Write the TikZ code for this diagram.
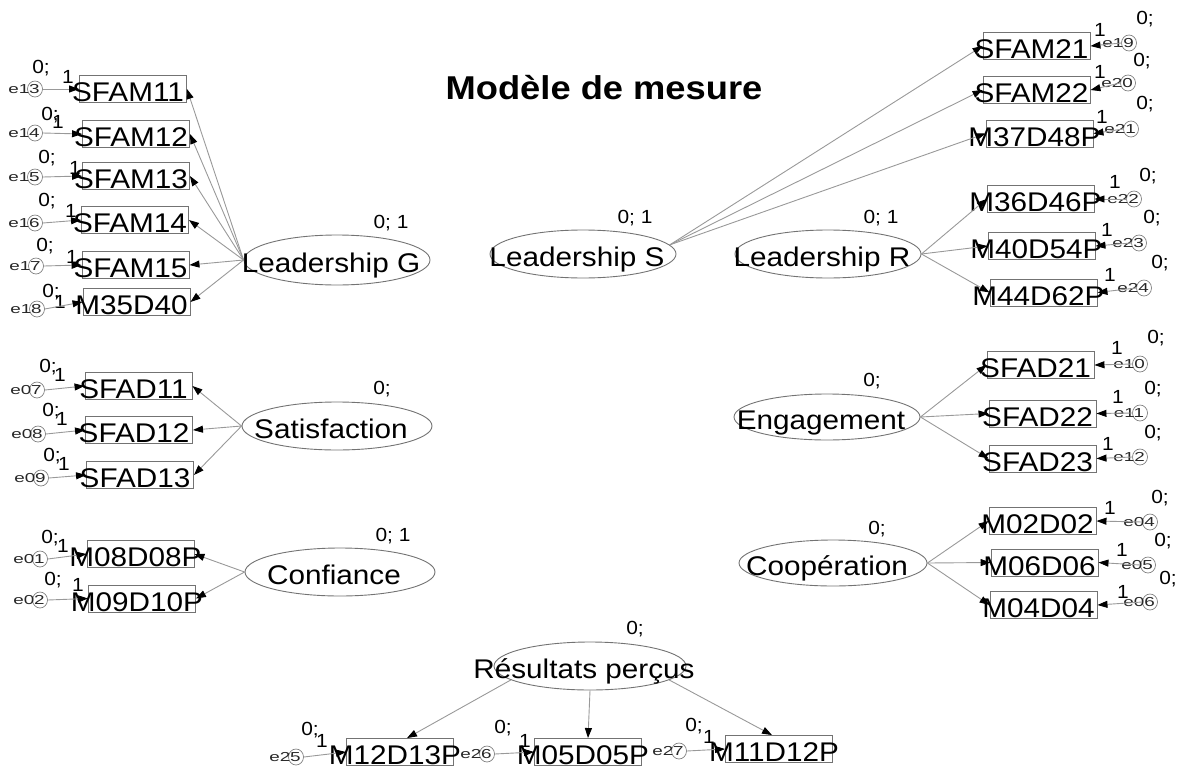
\documentclass[tikz,border=0pt]{standalone}
\usepackage{fontspec}
\setmainfont{Liberation Sans}
\newfontfamily\amos[FakeStretch=1.1]{Liberation Sans}
\newfontfamily\amosE[FakeStretch=1.45]{Liberation Sans}
\usetikzlibrary{shapes.geometric,arrows.meta}
\tikzset{
 indbox/.style={draw=black!55,line width=0.9pt,rectangle,minimum width=107pt,minimum height=27pt,inner sep=0pt},
 txt/.style={font=\amos\fontsize{27}{27}\selectfont,inner sep=0pt,text height=19.3pt,text depth=0pt},
 lat/.style={draw=black!55,line width=0.9pt,ellipse,inner sep=0pt},
 ecirc/.style={draw=black!50,line width=0.7pt,ellipse,minimum width=15pt,minimum height=16pt,inner sep=0pt},
 etxt/.style={font=\amosE\fontsize{13}{13}\selectfont,inner sep=0pt,text height=9.3pt,text depth=0pt,text=black!85},
 lbl/.style={font=\amos\fontsize{19}{19}\selectfont,inner sep=0pt,text height=13.6pt,text depth=0pt},
 conn/.style={draw=black!40,line width=0.9pt,-{Triangle[length=10pt,width=7pt,color=black]}},
 ttl/.style={font=\amos\bfseries\fontsize{33}{33}\selectfont,inner sep=0pt,text height=23.6pt,text depth=0pt},
}
\newcommand\mkInd[4]{\node[indbox] (#1) at (#2,#3) {};\node[txt] (#1t) at ([shift={(-5,3)}]#1.center) {#4};}
\newcommand\mkLat[6]{\node[lat,minimum width=#4pt,minimum height=#5pt] (#1) at (#2,#3) {};\node[txt] (#1t) at ([shift={(-6,3)}]#1.center) {#6};}
\newcommand\mkErr[4]{\node[ecirc] (#1) at (#2,#3) {};\node[etxt] (#1t) at ([xshift=-11pt]#1.center) {#4};}
\newcommand\mkLbl[4]{\node[lbl] (#1) at (#2,#3) {#4};}
\begin{document}
\begin{tikzpicture}[x=1pt,y=-1pt]
\useasboundingbox (0,0) rectangle (1180,771);
\node[ttl] (title) at (604,88) {Modèle de mesure};

% ---------- Leadership G ----------
\mkLat{LG}{337}{260}{186}{50}{Leadership G}
\mkLbl{LGl}{391}{222}{0; 1}
\mkInd{SFAMa}{133}{89}{SFAM11}
\mkInd{SFAMb}{136}{134}{SFAM12}
\mkInd{SFAMc}{136}{176}{SFAM13}
\mkInd{SFAMd}{135}{220}{SFAM14}
\mkInd{SFAMe}{135.5}{265}{SFAM15}
\mkInd{MxxxA}{136.5}{302}{M35D40}
\mkErr{e13}{35}{89}{e13}
\mkErr{e14}{35}{133}{e14}
\mkErr{e15}{35}{177}{e15}
\mkErr{e16}{35}{223}{e16}
\mkErr{e17}{36}{266}{e17}
\mkErr{e18}{37}{309}{e18}
\mkLbl{z13}{41}{67}{0;}\mkLbl{o13}{68}{77}{1}
\mkLbl{z14}{50}{114}{0;}\mkLbl{o14}{58}{122}{1}
\mkLbl{z15}{47}{157}{0;}\mkLbl{o15}{75}{168}{1}
\mkLbl{z16}{47}{200}{0;}\mkLbl{o16}{71}{211}{1}
\mkLbl{z17}{45}{245}{0;}\mkLbl{o17}{72}{257}{1}
\mkLbl{z18}{51}{291}{0;}\mkLbl{o18}{60}{302}{1}
\foreach \b in {SFAMa,SFAMb,SFAMc,SFAMd,SFAMe,MxxxA} \draw[conn] (LG.west) -- (\b.east);
\draw[conn] (e13.east) -- (SFAMa.west);
\draw[conn] (e14.east) -- (SFAMb.west);
\draw[conn] (e15.east) -- (SFAMc.west);
\draw[conn] (e16.east) -- (SFAMd.west);
\draw[conn] (e17.east) -- (SFAMe.west);
\draw[conn] (e18.east) -- (MxxxA.west);

% ---------- Satisfaction ----------
\mkLat{SAT}{337}{426}{190}{48}{Satisfaction}
\mkLbl{SATl}{382}{388}{0;}
\mkInd{SFADa}{138.5}{386}{SFAD11}
\mkInd{SFADb}{139}{430}{SFAD12}
\mkInd{SFADc}{140}{475}{SFAD13}
\mkErr{e07}{37}{390}{e07}
\mkErr{e08}{38}{434}{e08}
\mkErr{e09}{41}{478}{e09}
\mkLbl{z07}{48}{366}{0;}\mkLbl{o07}{60}{375}{1}
\mkLbl{z08}{51}{410}{0;}\mkLbl{o08}{62}{419}{1}
\mkLbl{z09}{52}{455}{0;}\mkLbl{o09}{64}{464}{1}
\foreach \b in {SFADa,SFADb,SFADc} \draw[conn] (SAT.west) -- (\b.east);
\draw[conn] (e07.east) -- (SFADa.west);
\draw[conn] (e08.east) -- (SFADb.west);
\draw[conn] (e09.east) -- (SFADc.west);

% ---------- Confiance ----------
\mkLat{CONF}{340}{572}{190}{48}{Confiance}
\mkLbl{CONFl}{393}{535}{0; 1}
\mkInd{MconA}{140.5}{554}{M08D08P}
\mkInd{MconB}{142}{598.5}{M09D10P}
\mkErr{e01}{40}{559}{e01}
\mkErr{e02}{40}{600}{e02}
\mkLbl{z01}{50}{537}{0;}\mkLbl{o01}{63}{546}{1}
\mkLbl{z02}{53}{579}{0;}\mkLbl{o02}{78}{585}{1}
\draw[conn] (CONF.west) -- (MconA.east);
\draw[conn] (CONF.west) -- (MconB.east);
\draw[conn] (e01.east) -- (MconA.west);
\draw[conn] (e02.east) -- (MconB.west);

% ---------- Leadership S ----------
\mkLat{LS}{583}{254}{186}{48}{Leadership S}
\mkLbl{LSl}{635}{217}{0; 1}
\mkInd{SFAMf}{1036.5}{46}{SFAM21}
\mkInd{SFAMg}{1036.5}{90}{SFAM22}
\mkInd{MlsA}{1039.5}{133.5}{M37D48P}
\mkErr{e19}{1129}{43}{e19}
\mkErr{e20}{1128}{83}{e20}
\mkErr{e21}{1131}{129}{e21}
\mkLbl{o19}{1100}{30}{1}\mkLbl{z19}{1145}{18}{0;}
\mkLbl{o20}{1100}{72}{1}\mkLbl{z20}{1142}{60}{0;}
\mkLbl{o21}{1102}{117}{1}\mkLbl{z21}{1145}{103}{0;}
\foreach \b in {SFAMf,SFAMg,MlsA} \draw[conn] (LS.6) -- (\b.west);
\draw[conn] (e19.west) -- (SFAMf.east);
\draw[conn] (e20.west) -- (SFAMg.east);
\draw[conn] (e21.west) -- (MlsA.east);

% ---------- Leadership R ----------
\mkLat{LR}{828}{254}{186}{48}{Leadership R}
\mkLbl{LRl}{881}{217}{0; 1}
\mkInd{MlrA}{1040.5}{199}{M36D46P}
\mkInd{MlrB}{1041.5}{246}{M40D54P}
\mkInd{MlrC}{1043.5}{292.5}{M44D62P}
\mkErr{e22}{1134}{199}{e22}
\mkErr{e23}{1139}{243}{e23}
\mkErr{e24}{1144}{288}{e24}
\mkLbl{o22}{1115}{182}{1}\mkLbl{z22}{1148}{175}{0;}
\mkLbl{o23}{1107}{230}{1}\mkLbl{z23}{1152}{217}{0;}
\mkLbl{o24}{1110}{275}{1}\mkLbl{z24}{1160}{262}{0;}
\foreach \b in {MlrA,MlrB,MlrC} \draw[conn] (LR.east) -- (\b.west);
\draw[conn] (e22.west) -- (MlrA.east);
\draw[conn] (e23.west) -- (MlrB.east);
\draw[conn] (e24.west) -- (MlrC.east);

% ---------- Engagement ----------
\mkLat{ENG}{827}{417}{186}{46}{Engagement}
\mkLbl{ENGl}{872}{380}{0;}
\mkInd{SFADd}{1040.5}{365}{SFAD21}
\mkInd{SFADe}{1042.5}{413.5}{SFAD22}
\mkInd{SFADf}{1042.5}{458.5}{SFAD23}
\mkErr{e10}{1140}{364}{e10}
\mkErr{e11}{1140}{413}{e11}
\mkErr{e12}{1140}{457}{e12}
\mkLbl{o10}{1117}{348}{1}\mkLbl{z10}{1156}{337}{0;}
\mkLbl{o11}{1118}{397}{1}\mkLbl{z11}{1153}{388}{0;}
\mkLbl{o12}{1108}{444}{1}\mkLbl{z12}{1153}{432}{0;}
\foreach \b in {SFADd,SFADe,SFADf} \draw[conn] (ENG.east) -- (\b.west);
\draw[conn] (e10.west) -- (SFADd.east);
\draw[conn] (e11.west) -- (SFADe.east);
\draw[conn] (e12.west) -- (SFADf.east);

% ---------- Cooperation ----------
\mkLat{COOP}{833}{563}{188}{46}{Coopération}
\mkLbl{COOPl}{877}{528}{0;}
\mkInd{McoA}{1042.5}{521}{M02D02}
\mkInd{McoB}{1044.5}{562.5}{M06D06}
\mkInd{McoC}{1043.5}{605}{M04D04}
\mkErr{e04}{1150}{522}{e04}
\mkErr{e05}{1148}{565}{e05}
\mkErr{e06}{1150}{602}{e06}
\mkLbl{o04}{1110}{508}{1}\mkLbl{z04}{1160}{497}{0;}
\mkLbl{o05}{1122}{550}{1}\mkLbl{z05}{1163}{540}{0;}
\mkLbl{o06}{1123}{592}{1}\mkLbl{z06}{1168}{578}{0;}
\foreach \b in {McoA,McoB,McoC} \draw[conn] (COOP.east) -- (\b.west);
\draw[conn] (e04.west) -- (McoA.east);
\draw[conn] (e05.west) -- (McoB.east);
\draw[conn] (e06.west) -- (McoC.east);

% ---------- Resultats percus ----------
\mkLat{RP}{590}{666}{192}{48}{Résultats perçus}
\mkLbl{RPl}{635}{628}{0;}
\mkInd{MrpA}{400}{752}{M12D13P}
\mkInd{MrpB}{588}{752}{M05D05P}
\mkInd{MrpC}{779}{749}{M11D12P}
\mkErr{e25}{296}{757}{e25}
\mkErr{e26}{487}{754}{e26}
\mkErr{e27}{679}{751}{e27}
\mkLbl{z25}{310}{729}{0;}\mkLbl{o25}{322}{741}{1}
\mkLbl{z26}{503}{727}{0;}\mkLbl{o26}{525}{741}{1}
\mkLbl{z27}{694}{725}{0;}\mkLbl{o27}{709}{737}{1}
\draw[conn] (RP.190) -- ([xshift=7pt]MrpA.north);
\draw[conn] (RP.south) -- (MrpB.north);
\draw[conn] (RP.-10) -- ([xshift=-7pt]MrpC.north);
\draw[conn] (e25.east) -- (MrpA.west);
\draw[conn] (e26.east) -- (MrpB.west);
\draw[conn] (e27.east) -- (MrpC.west);
\end{tikzpicture}
\end{document}
